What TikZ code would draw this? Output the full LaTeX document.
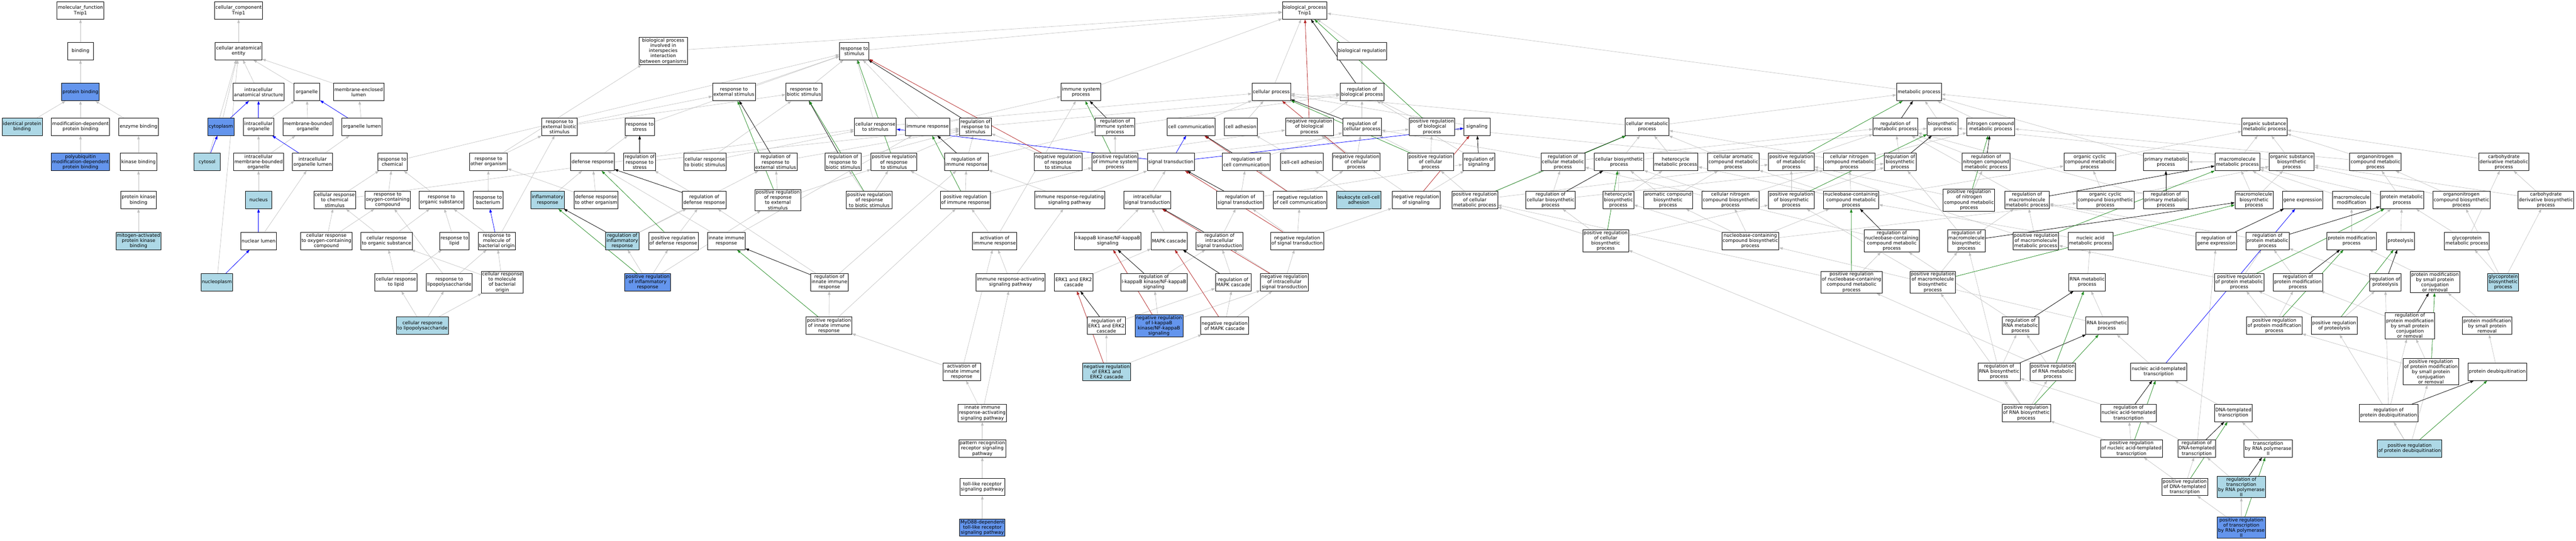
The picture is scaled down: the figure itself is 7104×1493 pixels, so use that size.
\documentclass[tikz,border=0pt]{standalone}
\usepackage{fontspec}
\setmainfont{DejaVu Sans}
\usetikzlibrary{arrows.meta,backgrounds}
\definecolor{egray}{RGB}{190,190,190}
\definecolor{lblue}{RGB}{173,216,230}
\definecolor{cblue}{RGB}{100,149,237}
\definecolor{egreen}{RGB}{34,139,34}
\definecolor{ered}{RGB}{178,34,34}
\tikzset{
 bx/.style={draw=black, line width=1.1pt, fill=white, align=center, inner xsep=2.5pt, inner ysep=2.5pt,
   minimum width=72pt, minimum height=48pt, font=\fontsize{13pt}{14.4pt}\selectfont},
 lb/.style={bx, fill=lblue},
 db/.style={bx, fill=cblue},
 tip/.style={-{Triangle[length=10pt,width=7pt]}},
 isa/.style={draw=egray, line width=0.9pt, tip},
 partof/.style={draw=blue, line width=1.1pt, tip},
 reg/.style={draw=black, line width=1.1pt, tip},
 preg/.style={draw=egreen, line width=1.1pt, tip},
 nreg/.style={draw=ered, line width=1.1pt, tip}
}
\begin{document}
\begin{tikzpicture}[x=1pt,y=-1pt]
\useasboundingbox (0,0) rectangle (7104,1493);
% R0
\node[bx] (mf) at (222,29) {molecular\_function\\Tnip1};
\node[bx] (ccomp) at (658,29) {cellular\_component\\Tnip1};
\node[bx] (bp) at (3598,29) {biological\_process\\Tnip1};
% R1
\node[bx] (binding) at (222,141) {binding};
\node[bx] (cae) at (658,141) {cellular anatomical\\entity};
\node[bx] (bpii) at (1829,141) {biological process\\involved in\\interspecies\\interaction\\between organisms};
\node[bx] (rts) at (2356,141) {response to\\stimulus};
\node[bx] (breg) at (3756,141) {biological regulation};
% R2
\node[db] (pb) at (222,254) {protein binding};
\node[bx] (ias) at (713,254) {intracellular\\anatomical structure};
\node[bx] (org) at (846,254) {organelle};
\node[bx] (mel) at (989,254) {membrane-enclosed\\lumen};
\node[bx] (rtes) at (2024,254) {response to\\external stimulus};
\node[bx] (rtbs) at (2217,254) {response to\\biotic stimulus};
\node[bx] (isp) at (2981,254) {immune system\\process};
\node[bx] (cp) at (3506,254) {cellular process};
\node[bx] (rbp) at (3756,254) {regulation of\\biological process};
\node[bx] (mp) at (5292,254) {metabolic process};
% R3
\node[lb] (ipb) at (61,350) {identical protein\\binding};
\node[bx] (mdpb) at (222,350) {modification-dependent\\protein binding};
\node[bx] (eb) at (382,350) {enzyme binding};
\node[db] (cyto) at (609,350) {cytoplasm};
\node[bx] (io) at (713,350) {intracellular\\organelle};
\node[bx] (mbo) at (849,350) {membrane-bounded\\organelle};
\node[bx] (ol) at (998,350) {organelle lumen};
\node[bx] (rtebs) at (1543,350) {response to\\external biotic\\stimulus};
\node[bx] (rtstress) at (1764,350) {response to\\stress};
\node[bx] (crstim) at (2414,350) {cellular response\\to stimulus};
\node[bx] (ir) at (2558,350) {immune response};
\node[bx] (rrts2) at (2690,350) {regulation of\\response to\\stimulus};
\node[bx] (risp) at (3075,350) {regulation of\\immune system\\process};
\node[bx] (ccomm) at (3285,350) {cell communication};
\node[bx] (cadh) at (3422,350) {cell adhesion};
\node[bx] (nrbp) at (3611,350) {negative regulation\\of biological\\process};
\node[bx] (rcp) at (3756,350) {regulation of\\cellular process};
\node[bx] (prbp) at (3949,350) {positive regulation\\of biological\\process};
\node[bx] (sig) at (4073,350) {signaling};
\node[bx] (cmp) at (4542,350) {cellular metabolic\\process};
\node[bx] (rmp) at (5227,350) {regulation of\\metabolic process};
\node[bx] (bsp) at (5357,350) {biosynthetic\\process};
\node[bx] (ncmp) at (5490,350) {nitrogen compound\\metabolic process};
\node[bx] (osmp) at (6245,350) {organic substance\\metabolic process};
% R4
\node[db] (pmdpb) at (222,447) {polyubiquitin\\modification-dependent\\protein binding};
\node[bx] (kb) at (382,447) {kinase binding};
\node[lb] (cytosol) at (571,447) {cytosol};
\node[bx] (imbo) at (713,447) {intracellular\\membrane-bounded\\organelle};
\node[bx] (iol) at (862,447) {intracellular\\organelle lumen};
\node[bx] (rtc) at (1082,447) {response to\\chemical};
\node[bx] (rtoo) at (1347,447) {response to\\other organism};
\node[bx] (dr) at (1634,447) {defense response};
\node[bx] (rrts) at (1764,447) {regulation of\\response to\\stress};
\node[bx] (crbs) at (1944,447) {cellular response\\to biotic stimulus};
\node[bx] (rrtes) at (2139,447) {regulation of\\response to\\external stimulus};
\node[bx] (rrtbs) at (2325,447) {regulation of\\response to\\biotic stimulus};
\node[bx] (prrts) at (2465,447) {positive regulation\\of response\\to stimulus};
\node[bx] (rirr) at (2665,447) {regulation of\\immune response};
\node[bx] (nrrts) at (2918,447) {negative regulation\\of response\\to stimulus};
\node[bx] (prisp) at (3075,447) {positive regulation\\of immune system\\process};
\node[bx] (st) at (3229,447) {signal transduction};
\node[bx] (rcc) at (3437,447) {regulation of\\cell communication};
\node[bx] (cca) at (3590,447) {cell-cell adhesion};
\node[bx] (nrcp) at (3740,447) {negative regulation\\of cellular\\process};
\node[bx] (prcp) at (3945,447) {positive regulation\\of cellular\\process};
\node[bx] (rsig) at (4078,447) {regulation of\\signaling};
\node[bx] (rcmp) at (4310,447) {regulation of\\cellular metabolic\\process};
\node[bx] (cbp) at (4465,447) {cellular biosynthetic\\process};
\node[bx] (hmp) at (4621,447) {heterocycle\\metabolic process};
\node[bx] (cacmp) at (4780,447) {cellular aromatic\\compound metabolic\\process};
\node[bx] (prmp) at (4940,447) {positive regulation\\of metabolic\\process};
\node[bx] (cncmp) at (5100,447) {cellular nitrogen\\compound metabolic\\process};
\node[bx] (rbsp) at (5240,447) {regulation of\\biosynthetic\\process};
\node[bx] (rnitro) at (5477,447) {regulation of\\nitrogen compound\\metabolic process};
\node[bx] (occmp) at (5763,447) {organic cyclic\\compound metabolic\\process};
\node[bx] (primmp) at (5973,447) {primary metabolic\\process};
\node[bx] (mmp) at (6170,447) {macromolecule\\metabolic process};
\node[bx] (osbp) at (6320,447) {organic substance\\biosynthetic\\process};
\node[bx] (oncmp) at (6551,447) {organonitrogen\\compound metabolic\\process};
\node[bx] (cdmp) at (6905,447) {carbohydrate\\derivative metabolic\\process};
% R5
\node[bx] (pkb) at (382,552) {protein kinase\\binding};
\node[lb] (nucleus) at (713,552) {nucleus};
\node[bx] (crcs) at (923,552) {cellular response\\to chemical\\stimulus};
\node[bx] (rtocc) at (1069,552) {response to\\oxygen-containing\\compound};
\node[bx] (rtos) at (1218,552) {response to\\organic substance};
\node[bx] (rtb) at (1346,552) {response to\\bacterium};
\node[lb] (inflam) at (1510,552) {inflammatory\\response};
\node[bx] (drtoo) at (1644,552) {defense response\\to other organism};
\node[bx] (rdr) at (1942,552) {regulation of\\defense response};
\node[bx] (prrtes) at (2145,552) {positive regulation\\of response\\to external\\stimulus};
\node[bx] (prrtbs) at (2397,552) {positive regulation\\of response\\to biotic stimulus};
\node[bx] (prirr) at (2662,552) {positive regulation\\of immune response};
\node[bx] (irrsp) at (2950,552) {immune response-regulating\\signaling pathway};
\node[bx] (ist) at (3164,552) {intracellular\\signal transduction};
\node[bx] (rst) at (3420,552) {regulation of\\signal transduction};
\node[bx] (nrcc) at (3585,552) {negative regulation\\of cell communication};
\node[lb] (lcca) at (3747,552) {leukocyte cell-cell\\adhesion};
\node[bx] (nrs) at (3905,552) {negative regulation\\of signaling};
\node[bx] (prcmp) at (4067,552) {positive regulation\\of cellular\\metabolic process};
\node[bx] (rcbp) at (4276,552) {regulation of\\cellular biosynthetic\\process};
\node[bx] (hbp) at (4463,552) {heterocycle\\biosynthetic\\process};
\node[bx] (acbp) at (4600,552) {aromatic compound\\biosynthetic\\process};
\node[bx] (cncbp) at (4772,552) {cellular nitrogen\\compound biosynthetic\\process};
\node[bx] (prbsp) at (4940,552) {positive regulation\\of biosynthetic\\process};
\node[bx] (nbcmp) at (5105,552) {nucleobase-containing\\compound metabolic\\process};
\node[bx] (prnitro) at (5430,552) {positive regulation\\of nitrogen\\compound metabolic\\process};
\node[bx] (rmmp) at (5590,552) {regulation of\\macromolecule\\metabolic process};
\node[bx] (ocbp) at (5806,552) {organic cyclic\\compound biosynthetic\\process};
\node[bx] (rpmp) at (5973,552) {regulation of\\primary metabolic\\process};
\node[bx] (mmbp) at (6216,552) {macromolecule\\biosynthetic\\process};
\node[bx] (gexp) at (6350,552) {gene expression};
\node[bx] (mmod) at (6485,552) {macromolecule\\modification};
\node[bx] (pmp) at (6624,552) {protein metabolic\\process};
\node[bx] (oncbp) at (6788,552) {organonitrogen\\compound biosynthetic\\process};
\node[bx] (cdbp) at (7021,552) {carbohydrate\\derivative biosynthetic\\process};
% R6
\node[lb] (mapkb) at (382,665) {mitogen-activated\\protein kinase\\binding};
\node[bx] (nl) at (713,665) {nuclear lumen};
\node[bx] (crocc) at (900,665) {cellular response\\to oxygen-containing\\compound};
\node[bx] (crosub) at (1066,665) {cellular response\\to organic substance};
\node[bx] (rtlipid) at (1253,665) {response to\\lipid};
\node[bx] (rtmbo) at (1370,665) {response to\\molecule of\\bacterial origin};
\node[lb] (rir) at (1716,665) {regulation of\\inflammatory\\response};
\node[bx] (prdr) at (1857,665) {positive regulation\\of defense response};
\node[bx] (iir) at (2003,665) {innate immune\\response};
\node[bx] (aoir) at (2743,665) {activation of\\immune response};
\node[bx] (ikk) at (3055,665) {I-kappaB kinase/NF-kappaB\\signaling};
\node[bx] (mapk) at (3224,665) {MAPK cascade};
\node[bx] (rist) at (3363,665) {regulation of\\intracellular\\signal transduction};
\node[bx] (nrst) at (3577,665) {negative regulation\\of signal transduction};
\node[bx] (prcbp) at (4428,665) {positive regulation\\of cellular\\biosynthetic\\process};
\node[bx] (ncc) at (4827,665) {nucleobase-containing\\compound biosynthetic\\process};
\node[bx] (rncmp) at (5217,665) {regulation of\\nucleobase-containing\\compound metabolic\\process};
\node[bx] (rmbp) at (5423,665) {regulation of\\macromolecule\\biosynthetic\\process};
\node[bx] (prmmp) at (5614,665) {positive regulation\\of macromolecule\\metabolic process};
\node[bx] (namp) at (5765,665) {nucleic acid\\metabolic process};
\node[bx] (rge) at (6112,665) {regulation of\\gene expression};
\node[bx] (rprmp) at (6253,665) {regulation of\\protein metabolic\\process};
\node[bx] (pmodp) at (6485,665) {protein modification\\process};
\node[bx] (proteolysis) at (6620,665) {proteolysis};
\node[bx] (gmp) at (6803,665) {glycoprotein\\metabolic process};
% R7
\node[lb] (nucleoplasm) at (598,779) {nucleoplasm};
\node[bx] (crl) at (1092,779) {cellular response\\to lipid};
\node[bx] (rtlps) at (1239,779) {response to\\lipopolysaccharide};
\node[bx] (crmbo) at (1385,779) {cellular response\\to molecule\\of bacterial\\origin};
\node[db] (prir) at (1786,779) {positive regulation\\of inflammatory\\response};
\node[bx] (riir) at (2287,779) {regulation of\\innate immune\\response};
\node[bx] (iras) at (2787,779) {immune response-activating\\signaling pathway};
\node[bx] (erk) at (2961,779) {ERK1 and ERK2\\cascade};
\node[bx] (rikk) at (3182,779) {regulation of\\I-kappaB kinase/NF-kappaB\\signaling};
\node[bx] (rmapk) at (3401,779) {regulation of\\MAPK cascade};
\node[bx] (nrist) at (3542,779) {negative regulation\\of intracellular\\signal transduction};
\node[bx] (prnbcmp) at (5106,779) {positive regulation\\of nucleobase-containing\\compound metabolic\\process};
\node[bx] (prmbp) at (5330,779) {positive regulation\\of macromolecule\\biosynthetic\\process};
\node[bx] (rnamp) at (5756,779) {RNA metabolic\\process};
\node[bx] (prpmp) at (6175,779) {positive regulation\\of protein metabolic\\process};
\node[bx] (rpmodp) at (6337,779) {regulation of\\protein modification\\process};
\node[bx] (rproteo) at (6578,779) {regulation of\\proteolysis};
\node[bx] (pmsp) at (6715,779) {protein modification\\by small protein\\conjugation\\or removal};
\node[lb] (gbp) at (6903,779) {glycoprotein\\biosynthetic\\process};
% R8
\node[lb] (crlps) at (1165,899) {cellular response\\to lipopolysaccharide};
\node[bx] (priir) at (2286,899) {positive regulation\\of innate immune\\response};
\node[bx] (rerk) at (3051,899) {regulation of\\ERK1 and ERK2\\cascade};
\node[db] (nrikk) at (3196,899) {negative regulation\\of I-kappaB\\kinase/NF-kappaB\\signaling};
\node[bx] (nrmapk) at (3377,899) {negative regulation\\of MAPK cascade};
\node[bx] (rrmp) at (5572,899) {regulation of\\RNA metabolic\\process};
\node[bx] (rnabp) at (5810,899) {RNA biosynthetic\\process};
\node[bx] (prpmodp) at (6272,899) {positive regulation\\of protein modification\\process};
\node[bx] (prproteo) at (6437,899) {positive regulation\\of proteolysis};
\node[bx] (rpmsp) at (6646,899) {regulation of\\protein modification\\by small protein\\conjugation\\or removal};
\node[bx] (pmspr) at (6859,899) {protein modification\\by small protein\\removal};
% R9
\node[bx] (aiir) at (2652,1026) {activation of\\innate immune\\response};
\node[lb] (nrerk) at (3052,1026) {negative regulation\\of ERK1 and\\ERK2 cascade};
\node[bx] (rrbp) at (5513,1026) {regulation of\\RNA biosynthetic\\process};
\node[bx] (prrmp) at (5661,1026) {positive regulation\\of RNA metabolic\\process};
\node[bx] (nat) at (5953,1026) {nucleic acid-templated\\transcription};
\node[bx] (prpmsp) at (6704,1026) {positive regulation\\of protein modification\\by small protein\\conjugation\\or removal};
\node[bx] (pdub) at (6887,1026) {protein deubiquitination};
% R10
\node[bx] (iirasp) at (2709,1140) {innate immune\\response-activating\\signaling pathway};
\node[bx] (prrbp) at (5588,1140) {positive regulation\\of RNA biosynthetic\\process};
\node[bx] (rnat) at (5870,1140) {regulation of\\nucleic acid-templated\\transcription};
\node[bx] (dtt) at (6159,1140) {DNA-templated\\transcription};
\node[bx] (rpdub) at (6587,1140) {regulation of\\protein deubiquitination};
% R11
\node[bx] (prrsp) at (2709,1238) {pattern recognition\\receptor signaling\\pathway};
\node[bx] (prnat) at (5878,1238) {positive regulation\\of nucleic acid-templated\\transcription};
\node[bx] (rdtt) at (6058,1238) {regulation of\\DNA-templated\\transcription};
\node[bx] (trp2) at (6255,1238) {transcription\\by RNA polymerase\\II};
\node[lb] (prpdub) at (6645,1238) {positive regulation\\of protein deubiquitination};
% R12
\node[bx] (tlr) at (2709,1344) {toll-like receptor\\signaling pathway};
\node[bx] (prdt) at (6025,1344) {positive regulation\\of DNA-templated\\transcription};
\node[lb] (rtrp2) at (6181,1344) {regulation of\\transcription\\by RNA polymerase\\II};
% R13
\node[db] (myd88) at (2709,1456) {MyD88-dependent\\toll-like receptor\\signaling pathway};
\node[db] (prtrp2) at (6181,1456) {positive regulation\\of transcription\\by RNA polymerase\\II};

\begin{scope}[on background layer]
\foreach \a/\b in {binding/mf, pb/binding, ipb/pb, mdpb/pb, eb/pb, pmdpb/mdpb, kb/eb, pkb/kb, mapkb/pkb,
 cae/ccomp, ias/cae, org/cae, mel/cae, cyto/cae, cytosol/cae, io/org, mbo/org, ol/mel, imbo/io, imbo/mbo, iol/ol, nucleus/imbo, nl/iol, nucleoplasm/cae,
 bpii/bp, rts/bp, breg/bp, isp/bp, cp/bp, mp/bp, rtes/rts, rtbs/rts, rbp/breg,
 rtebs/rtes, rtebs/rtbs, rtstress/rts, crstim/rts, crstim/cp, ir/isp, ir/rts, rrts2/rbp, risp/rbp, ccomm/cp, cadh/cp, nrbp/rbp, rcp/rbp, prbp/rbp, sig/cp, cmp/mp, cmp/cp, bsp/mp, ncmp/mp, osmp/mp,
 rtc/rts, rtoo/rtebs, rtoo/bpii, dr/rtstress, rrts/rrts2, crbs/rtbs, crbs/crstim, rrtes/rrts2, rrtbs/rrts2, prrts/rrts2, rirr/rrts2, rirr/risp, nrrts/rrts2, nrrts/nrbp, prisp/risp, prisp/prbp, rcc/rcp, cca/cadh, nrcp/rcp, nrcp/nrbp, prcp/rcp, prcp/prbp, rsig/rbp, rcmp/rmp, rcmp/rcp, cbp/cmp, cbp/bsp, hmp/cmp, cacmp/cmp, prmp/rmp, prmp/prbp, cncmp/cmp, cncmp/ncmp, rbsp/rmp, rnitro/rmp, occmp/osmp, primmp/mp, mmp/osmp, mmp/primmp, osbp/osmp, osbp/bsp, oncmp/osmp, oncmp/ncmp, cdmp/osmp,
 rtb/rtoo, inflam/dr, drtoo/dr, drtoo/rtoo, rdr/rrts, prrtes/rrtes, prrtes/prrts, prrtbs/rrtbs, prrtbs/prrts, crcs/rtc, crcs/crstim, rtocc/rtc, rtos/rtc, prirr/rirr, prirr/prrts, prirr/prisp, irrsp/st, irrsp/rirr, ist/st, rst/rcc, rst/rsig, nrcc/rcc, nrcc/nrcp, lcca/cca, nrs/rsig, nrs/nrbp, prcmp/rcmp, prcmp/prcp, prcmp/prmp, rcbp/rcmp, rcbp/rbsp, hbp/cbp, hbp/hmp, acbp/cbp, acbp/cacmp, cncbp/cbp, cncbp/cncmp, prbsp/rbsp, prbsp/prmp, nbcmp/cncmp, nbcmp/hmp, nbcmp/cacmp, nbcmp/occmp, prnitro/rnitro, prnitro/prmp, rmmp/rmp, ocbp/occmp, ocbp/osbp, rpmp/rmp, mmbp/mmp, mmbp/osbp, gexp/mmp, mmod/mmp, pmp/mmp, pmp/oncmp, oncbp/oncmp, oncbp/osbp, cdbp/cdmp, cdbp/osbp,
 rtlipid/rtos, rtmbo/rtos, rtmbo/rtebs, rir/rdr, rir/rrtes, prdr/rdr, iir/dr, iir/ir, aoir/prirr, aoir/isp, ikk/ist, mapk/ist, rist/rst, nrst/rst, nrst/nrcc, nrst/nrs, prcbp/rcbp, prcbp/prcmp, prcbp/prbsp, ncc/nbcmp, ncc/hbp, ncc/acbp, ncc/cncbp, ncc/ocbp, rncmp/rcmp, rmbp/rbsp, rmbp/rmmp, prmmp/rmmp, prmmp/prmp, namp/nbcmp, rge/rmmp, rprmp/rmmp, pmodp/mmod, pmodp/pmp, proteolysis/pmp, gmp/pmp, gmp/cdmp,
 crl/rtlipid, crl/crosub, rtlps/rtmbo, rtlps/rtocc, crmbo/rtmbo, crmbo/crosub, crocc/crcs, crocc/rtocc, crosub/crcs, crosub/rtos, prir/rir, prir/prdr, prir/prrtes, riir/rdr, riir/rirr, iras/irrsp, iras/aoir, erk/mapk, rikk/rist, rmapk/rist, nrist/rist, nrist/nrst, prnbcmp/rncmp, prnbcmp/prcmp, prmbp/rmbp, prmbp/prbsp, rnamp/namp, prpmp/rprmp, prpmp/prmmp, rpmodp/rprmp, rproteo/rprmp, pmsp/pmodp, gbp/gmp, gbp/cdbp, gbp/oncbp,
 crlps/crl, crlps/rtlps, crlps/crmbo, priir/riir, priir/prirr, rerk/rmapk, nrikk/rikk, nrikk/nrist, nrmapk/rmapk, nrmapk/nrist, rrmp/rncmp, rnabp/rnamp, rnabp/ncc, prpmodp/rpmodp, prpmodp/prpmp, prproteo/rproteo, prproteo/prpmp, rpmsp/rpmodp, pmspr/pmsp,
 aiir/aoir, aiir/priir, nrerk/rerk, nrerk/nrmapk, rrbp/rrmp, rrbp/rmbp, prrmp/rrmp, prrmp/prnbcmp, nat/rnabp, prpmsp/rpmsp, prpmsp/prpmodp, pdub/pmspr,
 iirasp/aiir, iirasp/iras, prrbp/rrbp, prrbp/prrmp, prrbp/prmbp, prrbp/prcbp, rnat/rrbp, dtt/nat, rpdub/rpmsp, rpdub/rproteo,
 prrsp/iirasp, prnat/rnat, prnat/prrbp, rdtt/rnat, rdtt/rge, trp2/dtt, prpdub/rpdub, prpdub/prpmsp, prpdub/prproteo,
 tlr/prrsp, prdt/rdtt, prdt/prnat, rtrp2/rdtt, myd88/tlr, prtrp2/rtrp2, prtrp2/prdt}
 \draw[isa] (\a) -- (\b);
\foreach \a/\b in {cyto/ias, cytosol/cyto, io/ias, ol/org, iol/io, nl/nucleus, nucleoplasm/nl,
 st/crstim, st/ccomm, st/sig, rtmbo/rtb, nat/gexp}
 \draw[partof] (\a) -- (\b);
\foreach \a/\b in {rbp/bp, rrts2/rts, risp/isp, rcp/cp, rmp/mp, rrts/rtstress, rrtes/rtes, rrtbs/rtbs, rirr/ir, rcc/ccomm, rsig/sig, rcmp/cmp, rbsp/bsp, rnitro/ncmp, rpmp/primmp, rdr/dr, rst/st, rcbp/cbp, rmmp/mmp, rir/inflam, rist/ist, rncmp/nbcmp, rmbp/mmbp, rge/gexp, rprmp/pmp, riir/iir, rikk/ikk, rmapk/mapk, rpmodp/pmodp, rproteo/proteolysis, rerk/erk, rrmp/rnamp, rpmsp/pmsp, rrbp/rnabp, rnat/nat, rpdub/pdub, rdtt/dtt, rtrp2/trp2}
 \draw[reg] (\a) -- (\b);
\foreach \a/\b in {prbp/bp, prrts/rts, prisp/isp, prcp/cp, prmp/mp, prrtes/rtes, prrtbs/rtbs, prirr/ir, prcmp/cmp, prbsp/bsp, prnitro/ncmp, prdr/dr, prcbp/cbp, prmmp/mmp, prir/inflam, priir/iir, prnbcmp/nbcmp, prmbp/mmbp, prpmp/pmp, prpmodp/pmodp, prproteo/proteolysis, prrmp/rnamp, prpmsp/pmsp, prrbp/rnabp, prnat/nat, prpdub/pdub, prdt/dtt, prtrp2/trp2}
 \draw[preg] (\a) -- (\b);
\foreach \a/\b in {nrbp/bp, nrrts/rts, nrcp/cp, nrcc/ccomm, nrs/sig, nrst/st, nrist/ist, nrikk/ikk, nrmapk/mapk, nrerk/erk}
 \draw[nreg] (\a) -- (\b);
\end{scope}
\end{tikzpicture}
\end{document}
